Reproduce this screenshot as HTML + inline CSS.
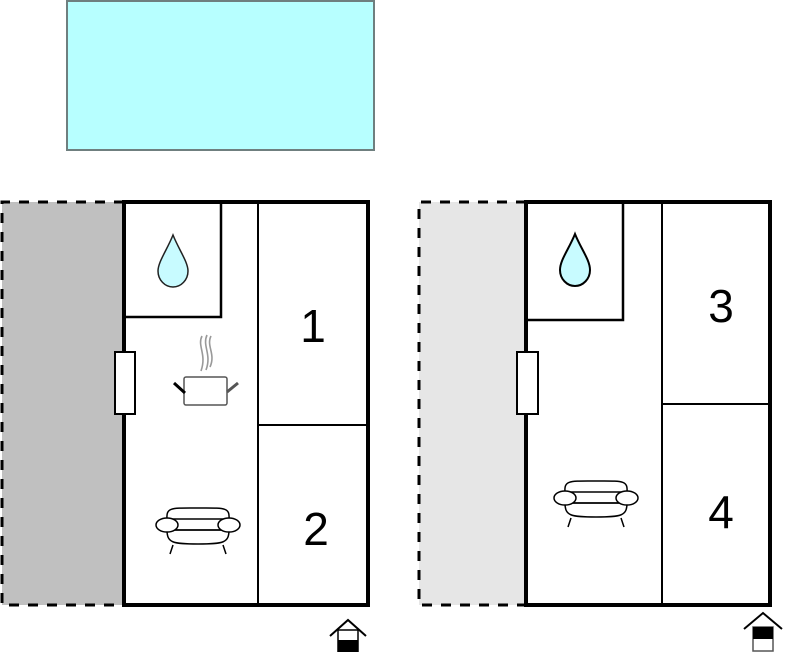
<!DOCTYPE html>
<html><head><style>body{margin:0;background:#fff}svg{display:block}</style></head><body>
<svg width="785" height="652" viewBox="0 0 785 652" xmlns="http://www.w3.org/2000/svg" font-family="Liberation Sans, sans-serif">
<rect x="67" y="1" width="307" height="149" fill="#b7ffff" stroke="#6f7f7f" stroke-width="2"/>
<!-- left building -->
<rect x="2" y="202" width="122" height="403" fill="#c0c0c0"/>
<path d="M124 202 H2 V605 H124" fill="none" stroke="#000" stroke-width="3" stroke-dasharray="10 9"/>
<rect x="124" y="202" width="244" height="403" fill="#fff" stroke="#000" stroke-width="4"/>
<path d="M124 317 H221 V202" fill="none" stroke="#000" stroke-width="2.5"/>
<line x1="258" y1="202" x2="258" y2="605" stroke="#000" stroke-width="2"/>
<line x1="258" y1="425" x2="368" y2="425" stroke="#000" stroke-width="2"/>
<rect x="115" y="352" width="20" height="62" fill="#fff" stroke="#000" stroke-width="2"/>
<path d="M173 235 C167 250 158 262 158 271 C158 280 165 287 173 287 C181 287 188 280 188 271 C188 262 179 250 173 235 Z" fill="#c8fbff" stroke="#222" stroke-width="1.5"/>
<text x="313" y="342" font-size="46" text-anchor="middle">1</text>
<text x="316" y="545" font-size="46" text-anchor="middle">2</text>
<!-- pot -->
<path d="M202 336 C197 346 207 354 201 371 M207 335 C202 346 212 354 206 370 M211 336 C206 346 216 354 210 367" fill="none" stroke="#999" stroke-width="1.6"/>
<rect x="184" y="377" width="43" height="28" rx="2" fill="#fff" stroke="#555" stroke-width="1.5"/>
<line x1="174" y1="383" x2="185" y2="393" stroke="#000" stroke-width="3"/>
<line x1="238" y1="383" x2="227" y2="392" stroke="#555" stroke-width="3"/>
<!-- sofa -->
<g fill="#fff" stroke="#000" stroke-width="1.5">
<path d="M167 519 C166 507 172 508 198 508 C224 508 230 507 229 519 Z"/>
<path d="M167 530 C167 543 173 544 198 544 C223 544 229 543 229 530 Z"/>
<line x1="173" y1="545" x2="170" y2="554"/><line x1="223" y1="545" x2="226" y2="554"/>
<line x1="172" y1="530" x2="225" y2="530"/>
<ellipse cx="167" cy="525" rx="11" ry="7"/><ellipse cx="229" cy="525" rx="11" ry="7"/>
</g>
<!-- entrance left -->
<path d="M330 636 L348 620 L366 636" fill="none" stroke="#000" stroke-width="2"/>
<rect x="338" y="630" width="20" height="22" fill="#fff" stroke="#000" stroke-width="1.5"/>
<rect x="338" y="640" width="20" height="12" fill="#000"/>
<!-- right building -->
<rect x="419" y="202" width="107" height="403" fill="#e6e6e6"/>
<path d="M526 202 H419 V605 H526" fill="none" stroke="#000" stroke-width="3" stroke-dasharray="10 9"/>
<rect x="526" y="202" width="244" height="403" fill="#fff" stroke="#000" stroke-width="4"/>
<path d="M526 320 H623 V202" fill="none" stroke="#000" stroke-width="2.5"/>
<line x1="662" y1="202" x2="662" y2="605" stroke="#000" stroke-width="2"/>
<line x1="662" y1="404" x2="770" y2="404" stroke="#000" stroke-width="2"/>
<rect x="517" y="352" width="21" height="62" fill="#fff" stroke="#000" stroke-width="2"/>
<path d="M575 234 C569 249 560 260 560 270 C560 279 567 286 575 286 C583 286 590 279 590 270 C590 260 581 249 575 234 Z" fill="#c8fbff" stroke="#000" stroke-width="2"/>
<text x="721" y="322" font-size="46" text-anchor="middle">3</text>
<text x="721" y="528" font-size="46" text-anchor="middle">4</text>
<g fill="#fff" stroke="#000" stroke-width="1.5">
<path d="M565 492 C564 480 570 481 596 481 C622 481 628 480 627 492 Z"/>
<path d="M565 503 C565 516 571 517 596 517 C621 517 627 516 627 503 Z"/>
<line x1="571" y1="518" x2="568" y2="527"/><line x1="621" y1="518" x2="624" y2="527"/>
<line x1="570" y1="503" x2="623" y2="503"/>
<ellipse cx="565" cy="498" rx="11" ry="7"/><ellipse cx="627" cy="498" rx="11" ry="7"/>
</g>
<path d="M744 629 L763 613 L782 629" fill="none" stroke="#000" stroke-width="2"/>
<rect x="753" y="627" width="20" height="24" fill="#fff" stroke="#555" stroke-width="1.5"/>
<rect x="753" y="627" width="20" height="12" fill="#000"/>
</svg>
</body></html>
